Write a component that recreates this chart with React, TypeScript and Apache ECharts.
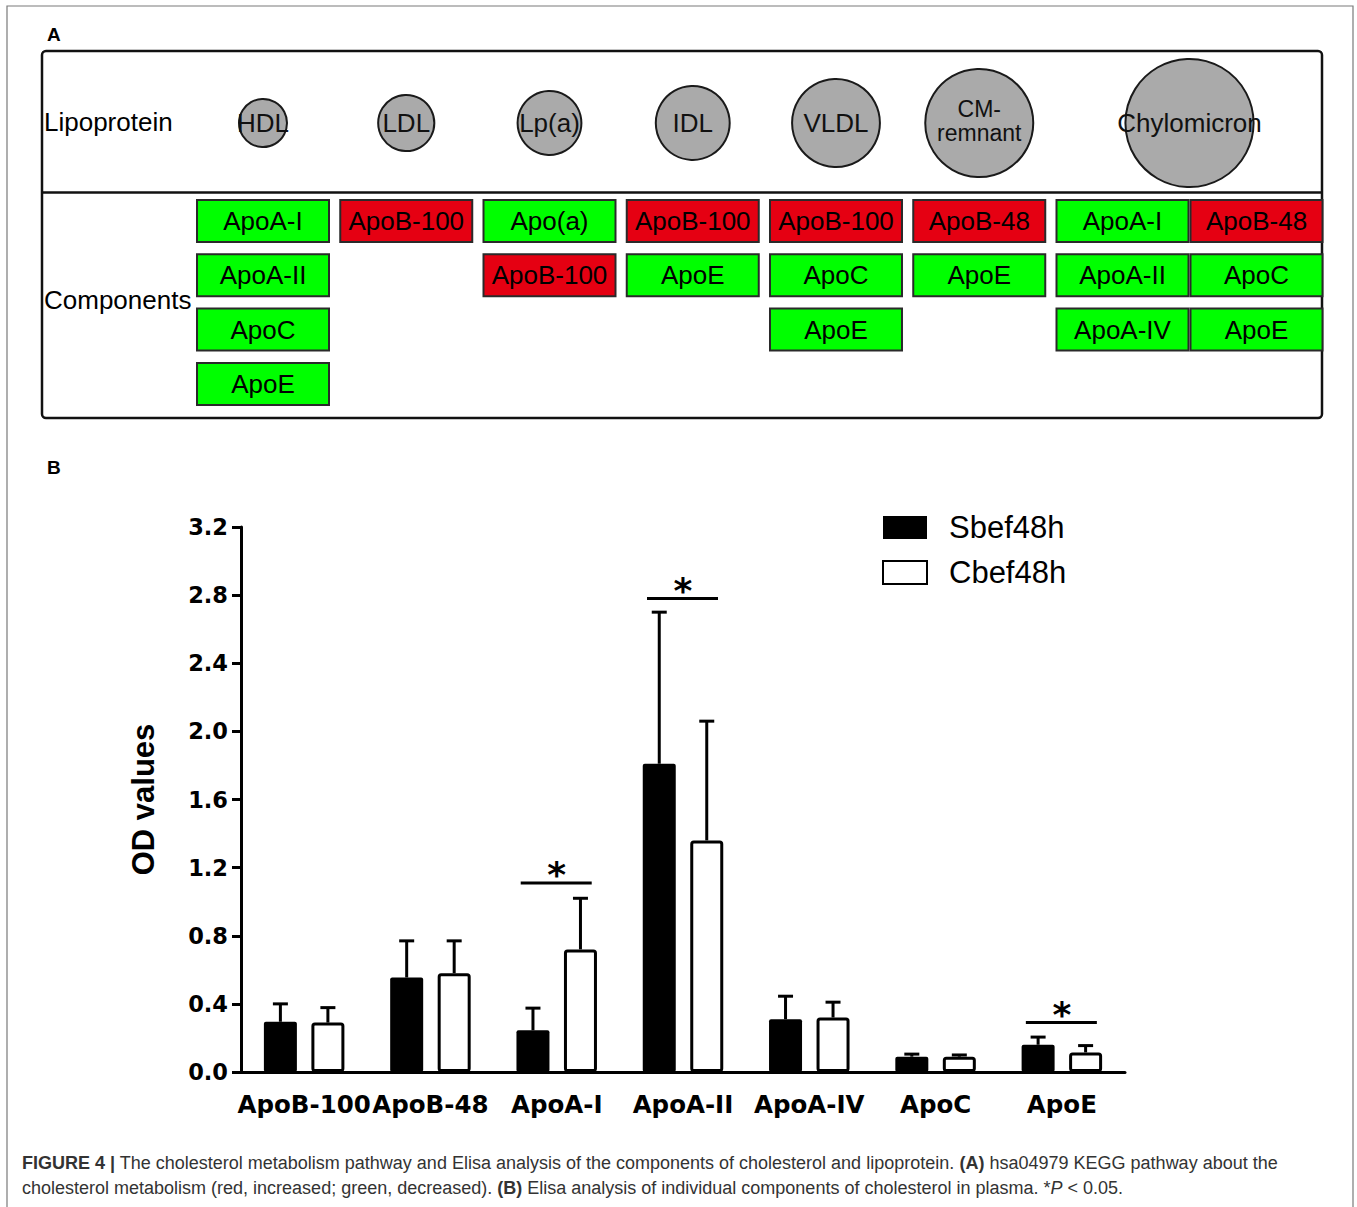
import React, { useEffect, useRef } from 'react';
import * as echarts from 'echarts';

// ---------- Panel B data ----------
const categories = ['ApoB-100', 'ApoB-48', 'ApoA-I', 'ApoA-II', 'ApoA-IV', 'ApoC', 'ApoE'];
const seriesNames = ['Sbef48h', 'Cbef48h'];
const sbefMean = [0.295, 0.555, 0.245, 1.81, 0.31, 0.09, 0.16];
const sbefSd = [0.105, 0.215, 0.13, 0.89, 0.135, 0.015, 0.045];
const cbefMean = [0.29, 0.58, 0.72, 1.36, 0.32, 0.09, 0.115];
const cbefSd = [0.088, 0.19, 0.3, 0.7, 0.09, 0.01, 0.04];
const yMin = 0;
const yMax = 3.2;
const yStep = 0.4;
// significance bars: [category index, level]
const sigMarks = [
  [2, 1.11],
  [3, 2.78],
  [6, 0.29],
];

// ---------- Panel A data ----------
const lipoproteins = ['HDL', 'LDL', 'Lp(a)', 'IDL', 'VLDL', 'CM-\nremnant', 'Chylomicron'];
const lipoRelSize = [1, 1.17, 1.33, 1.54, 1.83, 2.25, 2.67];
// each lipoprotein: list of sub-columns, each a list of [component, change]
const lipoComponents: [string, string][][][] = [
  [[['ApoA-I', 'down'], ['ApoA-II', 'down'], ['ApoC', 'down'], ['ApoE', 'down']]],
  [[['ApoB-100', 'up']]],
  [[['Apo(a)', 'down'], ['ApoB-100', 'up']]],
  [[['ApoB-100', 'up'], ['ApoE', 'down']]],
  [[['ApoB-100', 'up'], ['ApoC', 'down'], ['ApoE', 'down']]],
  [[['ApoB-48', 'up'], ['ApoE', 'down']]],
  [
    [['ApoA-I', 'down'], ['ApoA-II', 'down'], ['ApoA-IV', 'down']],
    [['ApoB-48', 'up'], ['ApoC', 'down'], ['ApoE', 'down']],
  ],
];
const captionLine1 =
  '{b|FIGURE 4 |} The cholesterol metabolism pathway and Elisa analysis of the components of cholesterol and lipoprotein. {b|(A)} hsa04979 KEGG pathway about the';
const captionLine2 =
  'cholesterol metabolism (red, increased; green, decreased). {b|(B)} Elisa analysis of individual components of cholesterol in plasma. *{i|P} < 0.05.';

const SANS = '"Liberation Sans", Arial, Helvetica, sans-serif';
const WIDE_BOLD = '"DejaVu Sans", "Liberation Sans", sans-serif';
const RED = '#e50012';
const GREEN = '#00ff00';
const CAP = '#333333';

const BAR_W = 33;
const BAR_GAP = 14.5;

function label(text: string, x: number, y: number, extra: any = {}) {
  return {
    type: 'text',
    x,
    y,
    style: {
      text,
      fontSize: 26,
      fontFamily: SANS,
      fill: '#000',
      align: 'left',
      verticalAlign: 'middle',
      textAlign: 'left',
      textVerticalAlign: 'middle',
      ...extra,
    },
  };
}

function buildPanelA(): any[] {
  const els: any[] = [];
  // outer frame
  els.push({
    type: 'rect',
    shape: { x: 7, y: 6, width: 1346, height: 1230 },
    style: { fill: 'none', stroke: '#7a7a7a', lineWidth: 1.2 },
    silent: true,
  });
  els.push(label('A', 47, 34.5, { fontSize: 19, fontWeight: 'bold' }));
  els.push(label('B', 47, 467, { fontSize: 19, fontWeight: 'bold' }));
  // panel A box
  els.push({
    type: 'rect',
    shape: { x: 42, y: 51, width: 1280, height: 367, r: 4 },
    style: { fill: '#fff', stroke: '#111', lineWidth: 2.5 },
  });
  els.push({
    type: 'line',
    shape: { x1: 42, y1: 192.5, x2: 1322, y2: 192.5 },
    style: { stroke: '#111', lineWidth: 2.5 },
  });
  els.push(label('Lipoprotein', 44, 122));
  els.push(label('Components', 44, 300));

  const colStart = 197;
  const colStep = 143.25;
  const boxW = 132;
  const subStep = 134;
  const rowTop = 200;
  const rowStep = 54.3;
  const boxH = 42;
  const circleY = 123;
  const baseR = 24;

  lipoproteins.forEach((name, i) => {
    const left = colStart + i * colStep;
    const subs = lipoComponents[i];
    const span = (subs.length - 1) * subStep + boxW;
    const cx = left + span / 2;
    const r = baseR * lipoRelSize[i];
    els.push({
      type: 'circle',
      shape: { cx, cy: circleY, r },
      style: { fill: '#aaaaaa', stroke: '#1a1a1a', lineWidth: 2 },
    });
    const lines = name.split('\n');
    const lh = 24;
    lines.forEach((ln, j) => {
      const y = circleY + (j - (lines.length - 1) / 2) * lh - (lines.length > 1 ? 2 : 0);
      els.push(
        label(ln, cx, y, {
          fill: '#111',
          align: 'center',
          textAlign: 'center',
          fontSize: lines.length > 1 ? 23 : 26,
        })
      );
    });
    subs.forEach((col, s) => {
      const bx = left + s * subStep;
      col.forEach(([comp, change], k) => {
        const by = rowTop + k * rowStep;
        els.push({
          type: 'rect',
          shape: { x: bx, y: by, width: boxW, height: boxH },
          style: { fill: change === 'up' ? RED : GREEN, stroke: '#2a2a2a', lineWidth: 2 },
        });
        els.push(label(comp, bx + boxW / 2, by + boxH / 2, { align: 'center', textAlign: 'center' }));
      });
    });
  });

  // caption
  const rich = {
    b: { fontWeight: 'bold', fontSize: 18, fontFamily: SANS, fill: CAP, color: CAP },
    i: { fontStyle: 'italic', fontSize: 18, fontFamily: SANS, fill: CAP, color: CAP },
  };
  [captionLine1, captionLine2].forEach((t, k) => {
    els.push(label(t, 22, 1163 + k * 25, { rich, fontSize: 18, fill: CAP }));
  });
  return els;
}

function errorSeries(mean: number[], sd: number[], dir: number) {
  return {
    type: 'custom',
    silent: true,
    z: 1,
    data: categories.map((_, i) => [i, mean[i], sd[i]]),
    renderItem: (_p: any, api: any) => {
      const x = api.value(0);
      const m = api.value(1);
      const e = api.value(2);
      const p0 = api.coord([x, m]);
      const p1 = api.coord([x, m + e]);
      const cx = p0[0] + (dir * (BAR_W + BAR_GAP)) / 2;
      return {
        type: 'group',
        children: [
          { type: 'line', shape: { x1: cx, y1: p0[1], x2: cx, y2: p1[1] }, style: { stroke: '#000', lineWidth: 3 } },
          { type: 'line', shape: { x1: cx - 7.5, y1: p1[1], x2: cx + 7.5, y2: p1[1] }, style: { stroke: '#000', lineWidth: 3 } },
        ],
      };
    },
  };
}

export default function App() {
  const ref = useRef<HTMLDivElement>(null);
  useEffect(() => {
    if (!ref.current) return;
    const chart = echarts.init(ref.current, null, { renderer: 'svg' });
    const option: any = {
      animation: false,
      graphic: { elements: buildPanelA() },
      legend: {
        data: seriesNames,
        orient: 'vertical',
        left: 882,
        top: 512,
        padding: 0,
        itemWidth: 44,
        itemHeight: 23,
        itemGap: 14,
        icon: 'rect',
        textStyle: { fontSize: 31, lineHeight: 30, fontFamily: SANS, color: '#000', padding: [0, 0, 0, 17] },
      },
      grid: { left: 241, right: 232, top: 527, bottom: 135, containLabel: false },
      xAxis: {
        type: 'category',
        data: categories,
        axisLine: { lineStyle: { color: '#000', width: 3 } },
        axisTick: { alignWithLabel: true, length: 10, lineStyle: { color: '#000', width: 3 } },
        axisLabel: { interval: 0, fontSize: 24.5, fontWeight: 'bold', fontFamily: WIDE_BOLD, color: '#000', margin: 20 },
      },
      yAxis: {
        type: 'value',
        min: yMin,
        max: yMax,
        interval: yStep,
        name: 'OD values',
        nameLocation: 'middle',
        nameRotate: 90,
        nameGap: 82,
        nameTextStyle: { fontSize: 31, fontWeight: 'bold', fontFamily: SANS, color: '#000' },
        axisLine: { show: true, lineStyle: { color: '#000', width: 3 } },
        axisTick: { show: true, length: 9, lineStyle: { color: '#000', width: 3 } },
        splitLine: { show: false },
        axisLabel: {
          formatter: (v: number) => v.toFixed(1),
          fontSize: 22.5,
          fontWeight: 'bold',
          fontFamily: WIDE_BOLD,
          color: '#000',
          margin: 13,
        },
      },
      series: [
        {
          name: seriesNames[0],
          type: 'bar',
          data: sbefMean,
          barWidth: BAR_W,
          barGap: `${(BAR_GAP / BAR_W) * 100}%`,
          z: 2,
          itemStyle: { color: '#000', borderRadius: 2 },
        },
        {
          name: seriesNames[1],
          type: 'bar',
          data: cbefMean,
          barWidth: BAR_W,
          barGap: `${(BAR_GAP / BAR_W) * 100}%`,
          z: 2,
          itemStyle: { color: '#fff', borderColor: '#000', borderWidth: 3, borderRadius: 2 },
        },
        errorSeries(sbefMean, sbefSd, -1),
        errorSeries(cbefMean, cbefSd, 1),
        {
          type: 'custom',
          silent: true,
          z: 3,
          data: sigMarks,
          renderItem: (_p: any, api: any) => {
            const c = api.coord([api.value(0), api.value(1)]);
            return {
              type: 'group',
              children: [
                { type: 'line', shape: { x1: c[0] - 36, y1: c[1], x2: c[0] + 35, y2: c[1] }, style: { stroke: '#000', lineWidth: 3 } },
                {
                  type: 'text',
                  x: c[0],
                  y: c[1] - 8,
                  style: {
                    text: '*',
                    fontSize: 36,
                    fontWeight: 'bold',
                    fontFamily: WIDE_BOLD,
                    fill: '#000',
                    align: 'center',
                    verticalAlign: 'middle',
                    textAlign: 'center',
                    textVerticalAlign: 'middle',
                  },
                },
              ],
            };
          },
        },
      ],
    };
    chart.setOption(option);
    return () => chart.dispose();
  }, []);
  return <div ref={ref} style={{ position: 'absolute', left: 0, top: 0, width: 1357, height: 1207 }} />;
}
